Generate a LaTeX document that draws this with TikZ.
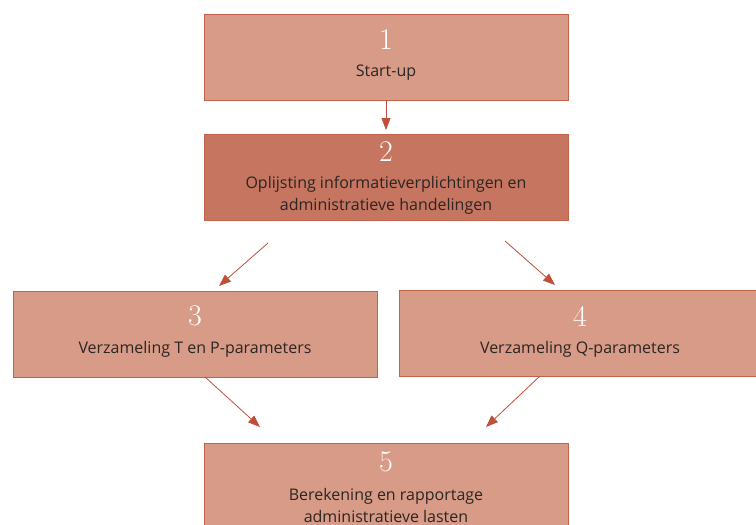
\documentclass[tikz,border=0pt]{standalone}
\usepackage{fontspec}
\newfontfamily\labelfont{Open Sans}
\usetikzlibrary{arrows.meta,positioning,calc}
\definecolor{boxfill}{HTML}{D89B88}
\definecolor{boxdark}{HTML}{C67560}
\definecolor{boxline}{HTML}{C4624C}
\definecolor{arrowcol}{HTML}{BF4F3A}
\definecolor{txt}{HTML}{2B2523}
\tikzset{
  stepbox/.style={draw=boxline, line width=0.9pt, fill=boxfill, rectangle, anchor=north west, minimum width=364pt, minimum height=86pt, inner sep=0pt},
  numlbl/.style={text=white, font=\fontsize{30}{30}\selectfont, inner sep=0pt},
  txtlbl/.style={text=txt, font=\labelfont\fontsize{16}{22}\selectfont, align=center, inner sep=0pt},
  conn/.style={draw=arrowcol, line width=0.8pt, -{Triangle[length=12pt,width=9pt]}}
}
\begin{document}
\begin{tikzpicture}[x=1pt,y=-1pt]
\useasboundingbox (0,0) rectangle (756,525);
\clip (0,0) rectangle (756,525);
\node[stepbox] (b1) at (204,14) {};
\node[stepbox, fill=boxdark] (b2) at (204,134) {};
\node[stepbox] (b3) at (13,291) {};
\node[stepbox, minimum width=370pt] (b4) at (399,290) {};
\node[stepbox, minimum height=100pt] (b5) at (204,443) {};

\node[numlbl] (n1) at (386,40) {1};
\node[txtlbl] (t1) at (386,73) {Start-up};
\node[numlbl] (n2) at (386,152) {2};
\node[txtlbl] (t2) at (386,195) {Oplijsting informatieverplichtingen en\\administratieve handelingen};
\node[numlbl] (n3) at (195,316) {3};
\node[txtlbl] (t3) at (195,349) {Verzameling T en P-parameters};
\node[numlbl] (n4) at (580,316) {4};
\node[txtlbl] (t4) at (580,349) {Verzameling Q-parameters};
\node[numlbl] (n5) at (386,462) {5};
\node[txtlbl] (t5) at (386,505) {Berekening en rapportage\\administratieve lasten};

\coordinate (a12s) at (386,100);
\coordinate (a12e) at (386,130);
\coordinate (a23s) at (268,243);
\coordinate (a23e) at (219,286);
\coordinate (a24s) at (505,241);
\coordinate (a24e) at (555,285);
\coordinate (a35s) at (205,377);
\coordinate (a35e) at (260,427);
\coordinate (a45s) at (540,376);
\coordinate (a45e) at (486,427);

\draw[conn] (a12s) -- (a12e);
\draw[conn] (a23s) -- (a23e);
\draw[conn] (a24s) -- (a24e);
\draw[conn] (a35s) -- (a35e);
\draw[conn] (a45s) -- (a45e);
\end{tikzpicture}
\end{document}
